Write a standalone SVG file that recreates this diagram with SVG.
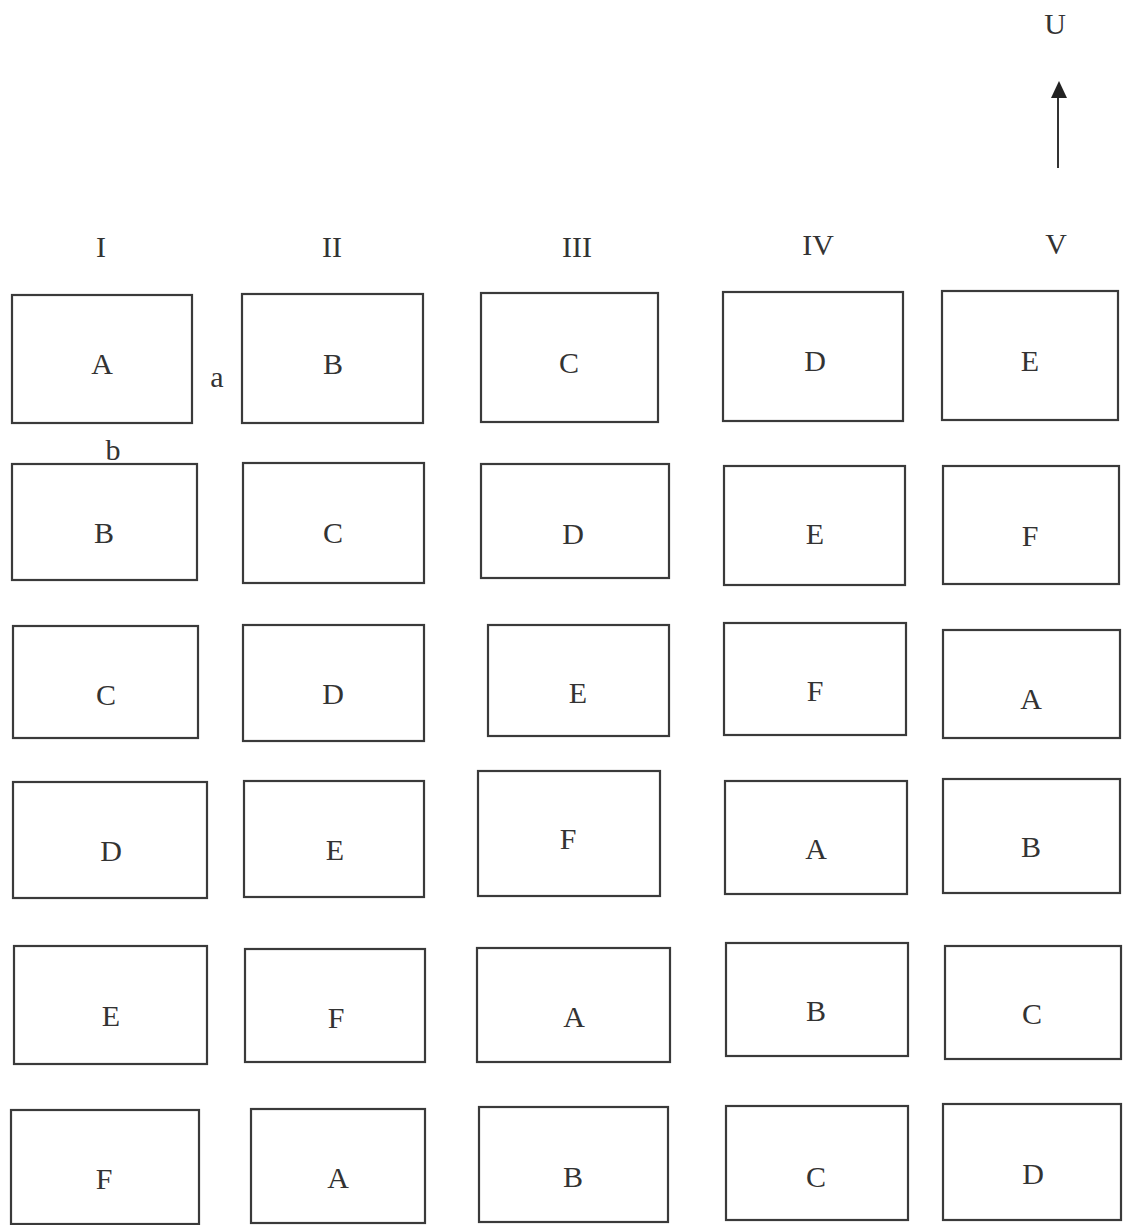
<svg xmlns="http://www.w3.org/2000/svg" width="1123" height="1225" viewBox="0 0 1123 1225">
<style>
.box{fill:none;stroke:#3a3a3a;stroke-width:2.2}
text{font-family:"Liberation Serif","Times New Roman",serif;font-size:30px;fill:#333;text-anchor:middle}
.conn{stroke:#333;stroke-width:2;fill:none}
</style>
<defs>
<marker id="ah" viewBox="0 0 10 10" refX="10" refY="5" markerWidth="8" markerHeight="8" markerUnits="userSpaceOnUse" orient="auto">
<path d="M0,0 L10,5 L0,10 z" fill="#222"/>
</marker>
</defs>
<rect width="1123" height="1225" fill="#fff"/>
<g id="headers">
<text x="101" y="257">I</text>
<text x="332" y="257">II</text>
<text x="577" y="257">III</text>
<text x="818" y="255">IV</text>
<text x="1056" y="254">V</text>
<text x="1055" y="34">U</text>
<text x="217" y="387">a</text>
<text x="113" y="460">b</text>
</g>
<g id="connectors">
<line class="conn" x1="1058" y1="168" x2="1058" y2="98"/>
<path d="M1051,98 L1059,81 L1067,98 z" fill="#222"/>
</g>
<g id="r1c1"><rect class="box" x="12" y="295" width="180" height="128"/><text x="102" y="374">A</text></g>
<g id="r1c2"><rect class="box" x="242" y="294" width="181" height="129"/><text x="333" y="374">B</text></g>
<g id="r1c3"><rect class="box" x="481" y="293" width="177" height="129"/><text x="569" y="373">C</text></g>
<g id="r1c4"><rect class="box" x="723" y="292" width="180" height="129"/><text x="815" y="371">D</text></g>
<g id="r1c5"><rect class="box" x="942" y="291" width="176" height="129"/><text x="1030" y="371">E</text></g>

<g id="r2c1"><rect class="box" x="12" y="464" width="185" height="116"/><text x="104" y="543">B</text></g>
<g id="r2c2"><rect class="box" x="243" y="463" width="181" height="120"/><text x="333" y="543">C</text></g>
<g id="r2c3"><rect class="box" x="481" y="464" width="188" height="114"/><text x="573" y="544">D</text></g>
<g id="r2c4"><rect class="box" x="724" y="466" width="181" height="119"/><text x="815" y="544">E</text></g>
<g id="r2c5"><rect class="box" x="943" y="466" width="176" height="118"/><text x="1030" y="546">F</text></g>

<g id="r3c1"><rect class="box" x="13" y="626" width="185" height="112"/><text x="106" y="705">C</text></g>
<g id="r3c2"><rect class="box" x="243" y="625" width="181" height="116"/><text x="333" y="704">D</text></g>
<g id="r3c3"><rect class="box" x="488" y="625" width="181" height="111"/><text x="578" y="703">E</text></g>
<g id="r3c4"><rect class="box" x="724" y="623" width="182" height="112"/><text x="815" y="701">F</text></g>
<g id="r3c5"><rect class="box" x="943" y="630" width="177" height="108"/><text x="1031" y="709">A</text></g>

<g id="r4c1"><rect class="box" x="13" y="782" width="194" height="116"/><text x="111" y="861">D</text></g>
<g id="r4c2"><rect class="box" x="244" y="781" width="180" height="116"/><text x="335" y="860">E</text></g>
<g id="r4c3"><rect class="box" x="478" y="771" width="182" height="125"/><text x="568" y="849">F</text></g>
<g id="r4c4"><rect class="box" x="725" y="781" width="182" height="113"/><text x="816" y="859">A</text></g>
<g id="r4c5"><rect class="box" x="943" y="779" width="177" height="114"/><text x="1031" y="857">B</text></g>

<g id="r5c1"><rect class="box" x="14" y="946" width="193" height="118"/><text x="111" y="1026">E</text></g>
<g id="r5c2"><rect class="box" x="245" y="949" width="180" height="113"/><text x="336" y="1028">F</text></g>
<g id="r5c3"><rect class="box" x="477" y="948" width="193" height="114"/><text x="574" y="1027">A</text></g>
<g id="r5c4"><rect class="box" x="726" y="943" width="182" height="113"/><text x="816" y="1021">B</text></g>
<g id="r5c5"><rect class="box" x="945" y="946" width="176" height="113"/><text x="1032" y="1024">C</text></g>

<g id="r6c1"><rect class="box" x="11" y="1110" width="188" height="114"/><text x="104" y="1189">F</text></g>
<g id="r6c2"><rect class="box" x="251" y="1109" width="174" height="114"/><text x="338" y="1188">A</text></g>
<g id="r6c3"><rect class="box" x="479" y="1107" width="189" height="115"/><text x="573" y="1187">B</text></g>
<g id="r6c4"><rect class="box" x="726" y="1106" width="182" height="114"/><text x="816" y="1187">C</text></g>
<g id="r6c5"><rect class="box" x="943" y="1104" width="178" height="116"/><text x="1033" y="1184">D</text></g>
</svg>
